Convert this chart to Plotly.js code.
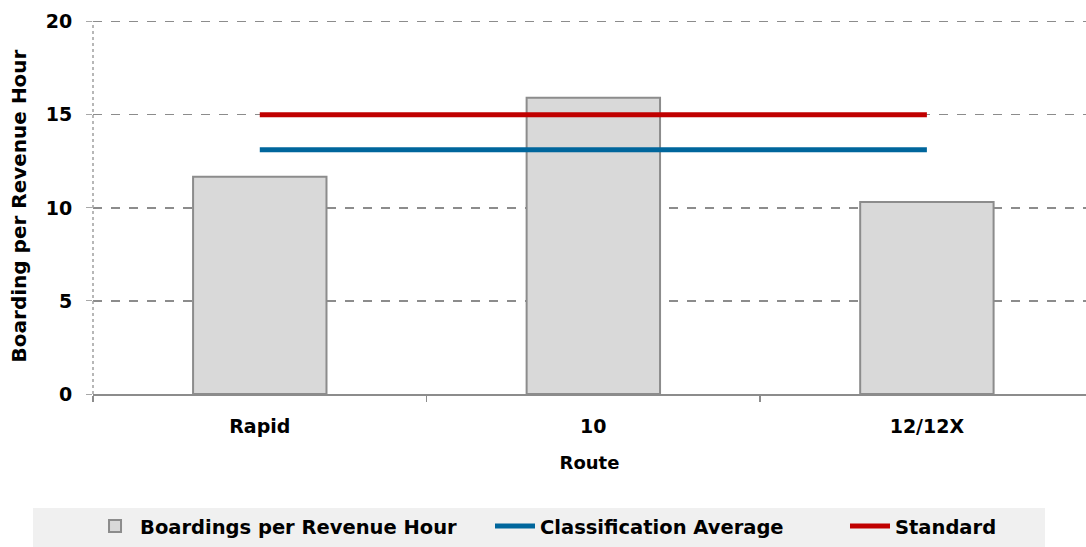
<!DOCTYPE html>
<html><head><meta charset="utf-8">
<script src="https://cdn.plot.ly/plotly-3.0.1.min.js"></script>
<style>body{margin:0;background:#fff}#c{width:1086px;height:547px}</style>
</head><body><div id="c"></div>
<script>
const routes = ["Rapid", "10", "12/12X"];
const boardings = [11.67, 15.91, 10.32];
const classificationAverage = [13.12, 13.12, 13.12];
const standard = [15, 15, 15];
const yTicks = [0, 5, 10, 15, 20];

const fontFam = "'DejaVu Sans', sans-serif";
const traces = [
  {type: "bar", name: "Boardings per Revenue Hour", x: routes, y: boardings, width: 0.4,
   marker: {color: "#d9d9d9", line: {color: "#8c8c8c", width: 2}}, legend: "legend"},
  {type: "scatter", mode: "lines", name: "Classification Average", x: routes, y: classificationAverage,
   line: {color: "#00669c", width: 5}, legend: "legend2"},
  {type: "scatter", mode: "lines", name: "Standard", x: routes, y: standard,
   line: {color: "#c00000", width: 5}, legend: "legend3"}
];
const legFont = {size: 19.5, family: fontFam, weight: "bold", color: "#000"};
const legBase = {orientation: "h", xanchor: "left", y: -0.404, yanchor: "bottom",
  bgcolor: "rgba(0,0,0,0)", font: legFont, itemwidth: 40};
const layout = {
  width: 1086, height: 547,
  margin: {l: 93, r: 0, t: 18, b: 153},
  paper_bgcolor: "#fff", plot_bgcolor: "#fff",
  font: {family: fontFam, color: "#000", size: 18},
  xaxis: {
    type: "category", range: [-0.5, 2.477], tickson: "boundaries",
    ticks: "outside", ticklen: 6, tickcolor: "#8c8c8c", tickwidth: 1.5,
    showline: true, linecolor: "#8c8c8c", linewidth: 2,
    showgrid: false, tickfont: {size: 19, family: fontFam, weight: "bold"},
    ticklabelstandoff: 14,
    title: {text: "<b>Route</b>", font: {size: 18, family: fontFam}, standoff: 21}
  },
  yaxis: {
    range: [0, 20.2], tickvals: yTicks, ticktext: yTicks.map(String),
    showgrid: true, gridcolor: "#8c8c8c", griddash: "dash", gridwidth: 1.3,
    zeroline: false, showline: false,
    ticks: "outside", ticklen: 6, tickcolor: "#a8a8a8",
    tickfont: {size: 19, family: fontFam, weight: "bold"},
    ticklabelstandoff: 10,
    title: {text: "<b>Boarding per Revenue Hour</b>", font: {size: 20, family: fontFam}, standoff: 13}
  },
  shapes: [
    {type: "rect", xref: "paper", yref: "paper", x0: -0.0604, x1: 0.9587, y0: -0.407, y1: -0.303,
     fillcolor: "#f0f0f0", line: {width: 0}, layer: "below"},
    {type: "line", xref: "paper", yref: "paper", x0: 0, x1: 0, y0: 0, y1: 0.99,
     line: {color: "#a0a0a0", width: 1.5, dash: "dot"}}
  ],
  showlegend: true,
  legend: Object.assign({}, legBase, {x: -0.003}),
  legend2: Object.assign({}, legBase, {x: 0.3998}),
  legend3: Object.assign({}, legBase, {x: 0.7573})
};
Plotly.newPlot("c", traces, layout, {displayModeBar: false, staticPlot: true});
</script></body></html>
